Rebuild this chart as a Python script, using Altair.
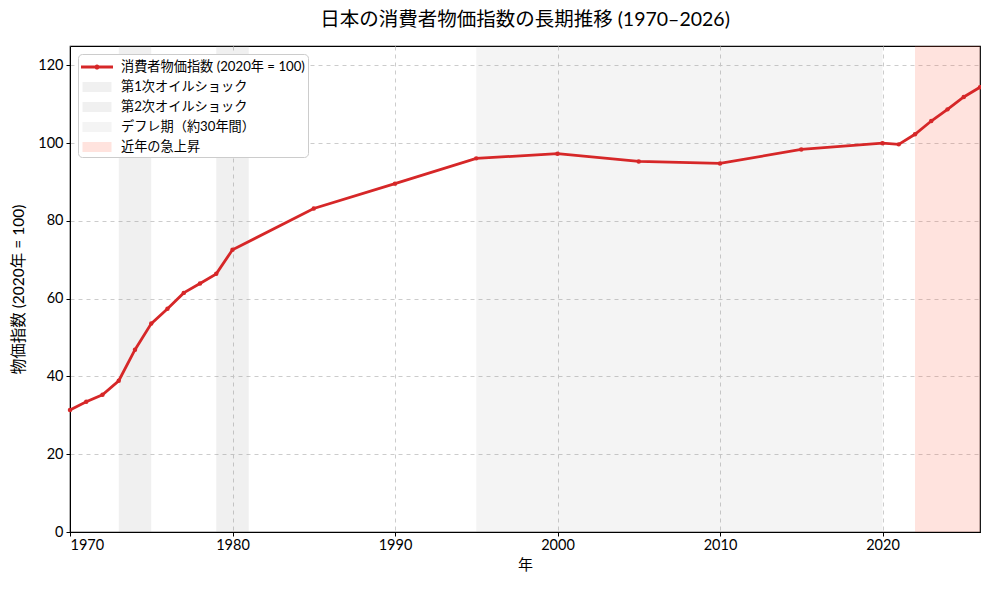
import altair as alt
import pandas as pd

years = [1970, 1971, 1972, 1973, 1974, 1975, 1976, 1977, 1978, 1979, 1980,
         1985, 1990, 1995, 2000, 2005, 2010, 2015, 2020, 2021, 2022, 2023,
         2024, 2025, 2026]
cpi = [31.4, 33.5, 35.3, 38.9, 46.9, 53.6, 57.4, 61.5, 63.9, 66.4, 72.6,
       83.2, 89.6, 96.1, 97.3, 95.3, 94.8, 98.4, 100.0, 99.7, 102.3, 105.7,
       108.7, 111.9, 114.4]

line_label = "消費者物価指数 (2020年 = 100)"
period_labels = ["第1次オイルショック", "第2次オイルショック", "デフレ期（約30年間）", "近年の急上昇"]
period_start = [1973, 1979, 1995, 2022]
period_end = [1975, 1981, 2020, 2026]

legend_domain = [line_label] + period_labels
legend_colors = ["#d62728", "rgba(128,128,128,0.12)", "rgba(128,128,128,0.12)",
                 "rgba(128,128,128,0.085)", "rgba(255,99,71,0.18)"]
line_shape = ("M-1.6,-0.14L1.6,-0.14L1.6,0.14L-1.6,0.14Z"
              "M-0.26,0A0.26,0.26 0 1 1 0.26,0A0.26,0.26 0 1 1 -0.26,0Z")
box_shape = "M-1.45,-0.5L1.45,-0.5L1.45,0.5L-1.45,0.5Z"
legend_shapes = [line_shape, box_shape, box_shape, box_shape, box_shape]

FONT = "Lato, 'Noto Sans CJK JP'"

df = pd.DataFrame({"year": years, "cpi": cpi, "label": line_label})
periods = pd.DataFrame({"start": period_start, "end": period_end, "label": period_labels})

x_scale = alt.Scale(domain=[1970, 2026], nice=False, zero=False)
y_scale = alt.Scale(domain=[0, 125], nice=False)
color_scale = alt.Scale(domain=legend_domain, range=legend_colors)
shape_scale = alt.Scale(domain=legend_domain, range=legend_shapes)

legend = alt.Legend(title=None, orient="none", legendX=8, legendY=8,
                    symbolSize=400, labelFontSize=13.2, labelFont=FONT,
                    labelColor="#000", rowPadding=3, labelOffset=14, symbolOffset=6,
                    padding=3, fillColor="white", strokeColor="#cccccc",
                    cornerRadius=4, symbolStrokeWidth=0, symbolOpacity=1, labelLimit=400)

x_axis = alt.Axis(title="年", values=[1970, 1980, 1990, 2000, 2010, 2020], format="d",
                  grid=True, gridDash=[4, 4], gridColor="#cccccc", tickColor="#000",
                  domainColor="#000", labelFontSize=14.5, titleFontSize=15,
                  labelColor="#000", titleColor="#000", titleFontWeight="normal",
                  tickSize=4, labelPadding=2, titlePadding=6)
y_axis = alt.Axis(title="物価指数 (2020年 = 100)", values=[0, 20, 40, 60, 80, 100, 120],
                  grid=True, gridDash=[4, 4], gridColor="#cccccc", tickColor="#000",
                  domainColor="#000", labelFontSize=14.5, titleFontSize=15.5,
                  labelColor="#000", titleColor="#000", titleFontWeight="normal",
                  tickSize=4, labelPadding=3, titlePadding=11)

rects = alt.Chart(periods).mark_rect().encode(
    x=alt.X("start:Q", scale=x_scale, axis=x_axis),
    x2="end:Q",
    y=alt.value(0),
    y2=alt.value(486),
    color=alt.Color("label:N", scale=color_scale, legend=legend),
)

line = alt.Chart(df).mark_line(strokeWidth=2.8).encode(
    x=alt.X("year:Q", scale=x_scale),
    y=alt.Y("cpi:Q", scale=y_scale, axis=y_axis),
    color=alt.Color("label:N", scale=color_scale, legend=legend),
)

points = alt.Chart(df).mark_point(filled=True, size=20, opacity=1, color="#d62728").encode(
    x=alt.X("year:Q", scale=x_scale),
    y=alt.Y("cpi:Q", scale=y_scale),
)

legend_layer = alt.Chart(df).transform_filter("datum.year < 0").mark_point(filled=True, opacity=1).encode(
    x=alt.X("year:Q", scale=x_scale),
    y=alt.Y("cpi:Q", scale=y_scale),
    color=alt.Color("label:N", scale=color_scale, legend=legend),
    shape=alt.Shape("label:N", scale=shape_scale, legend=legend),
)

chart = alt.layer(rects, line, points, legend_layer).properties(
    width=910, height=486,
    title=alt.Title("日本の消費者物価指数の長期推移 (1970–2026)", fontSize=19.5,
                    fontWeight="normal", font=FONT, color="#000", offset=16),
    padding={"left": 62, "top": 38, "right": 1, "bottom": 50},
    autosize=alt.AutoSizeParams(type="none"),
).configure(font=FONT).configure_view(stroke="#000", strokeWidth=1.2)

chart.save("out.html", embed_options={"renderer": "svg", "actions": False})
